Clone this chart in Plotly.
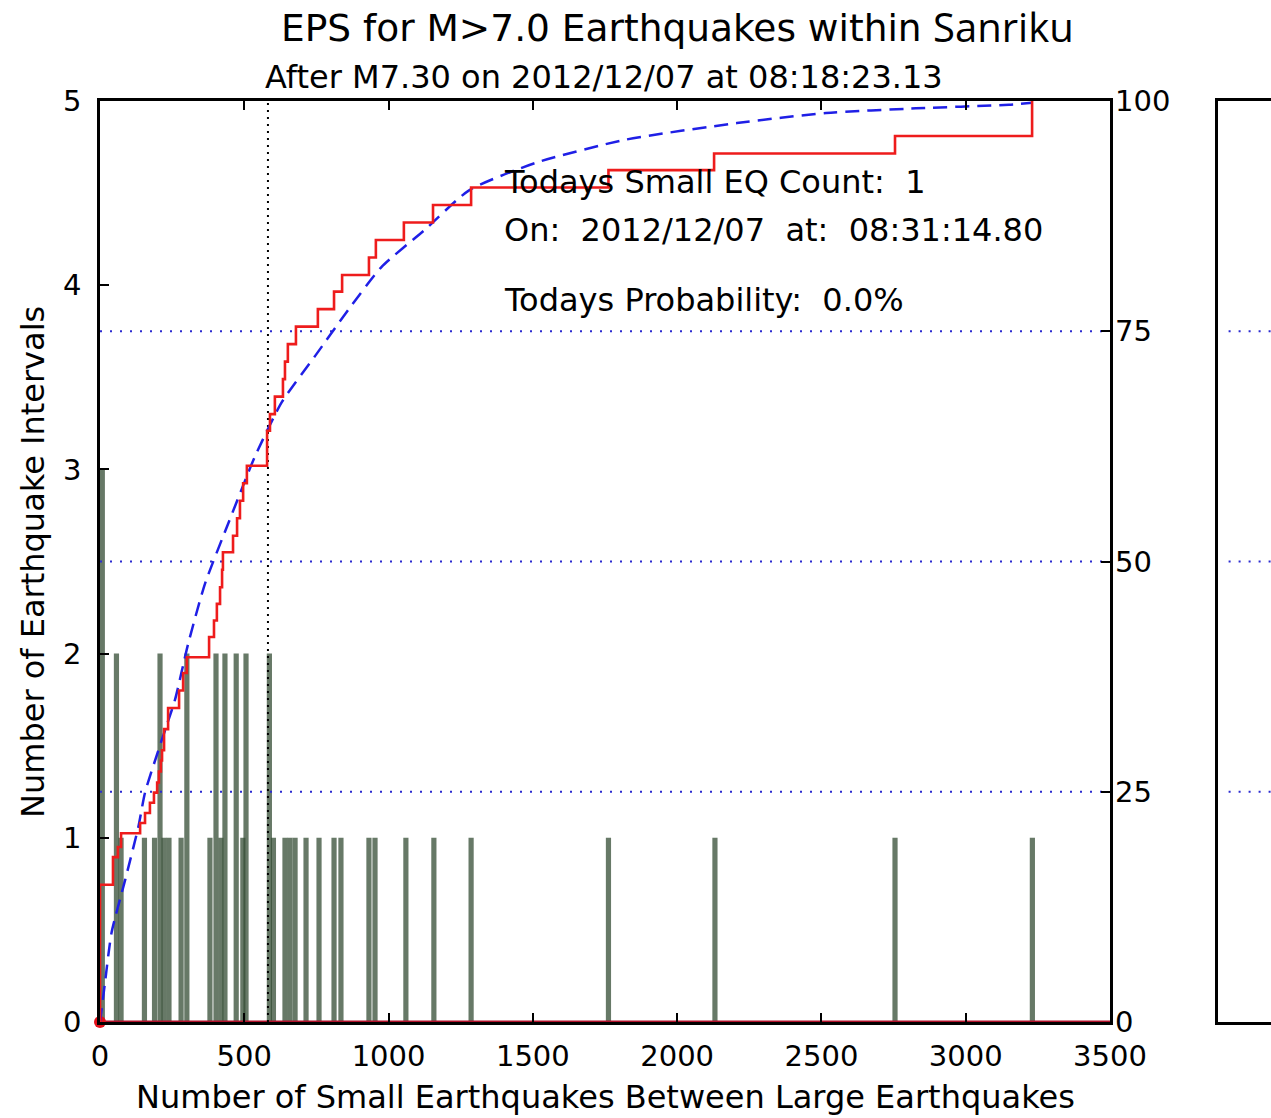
import plotly.graph_objects as go

# ---------------- data ----------------
# histogram of interval sizes (number of small EQs between large EQs)
bin_centers = [8, 57, 73, 154, 189, 208, 222, 239, 281, 301, 381, 402, 419, 433,
               472, 495, 506, 587, 601, 641, 658, 676, 714, 759, 811, 835, 932,
               953, 1060, 1157, 1286, 1762, 2131, 2755, 3231]
bin_counts = [3, 2, 1, 1, 1, 2, 1, 1, 1, 2, 1, 2, 1, 2,
              2, 1, 2, 2, 1, 1, 1, 1, 1, 1, 1, 1, 1,
              1, 1, 1, 1, 1, 1, 1, 1]

# empirical cumulative distribution (percent, right axis) - step curve
cdf_x = [0, 0, 45, 62, 73, 139, 156, 173, 187, 198, 204, 211, 215, 222, 236,
         274, 288, 301, 378, 395, 405, 416, 423, 426, 461, 475, 485, 496, 509,
         579, 589, 606, 634, 641, 651, 679, 755, 811, 839, 932, 956, 1053,
         1154, 1286, 1762, 2128, 2755, 3230]
cdf_pct = [0, 14.9, 17.9, 19.0, 20.5, 21.6, 22.7, 23.8, 24.9, 26.0, 27.2, 28.4,
           29.5, 31.8, 34.1, 36.0, 37.9, 39.6, 41.8, 43.6, 45.4, 47.2, 49.1,
           51.0, 52.8, 54.7, 56.6, 58.5, 60.4, 64.2, 66.0, 67.9, 69.8, 71.7,
           73.6, 75.5, 77.4, 79.3, 81.1, 83.0, 84.9, 86.8, 88.7, 90.6, 92.5,
           94.3, 96.2, 100.0]

# fitted (Weibull) cumulative curve, percent
fit_x = [0, 17, 40, 87, 133, 156, 214, 260, 305, 364, 444, 537, 630, 745, 860,
         976, 1125, 1279, 1511, 1821, 2207, 2516, 2827, 3150, 3230]
fit_pct = [0, 4.2, 9.7, 15.4, 21.2, 24.9, 30.6, 35.0, 41.0, 47.6, 54.1, 61.4,
           67.3, 72.3, 77.3, 82.0, 86.0, 90.3, 93.3, 95.8, 97.6, 98.7, 99.2,
           99.6, 99.8]

current_count = 582          # vertical dotted marker (small EQs since last large EQ)
pct_levels = [25, 50, 75]    # dotted reference levels
x_ticks = [0, 500, 1000, 1500, 2000, 2500, 3000, 3500]
left_ticks = [0, 1, 2, 3, 4, 5]
right_ticks = [0, 25, 50, 75, 100]
x_range = [0, 3500]
left_range = [0, 5]
right_range = [0, 100]

title_main = "EPS for M>7.0 Earthquakes within"
title_region = "Sanriku"
subtitle = "After M7.30 on 2012/12/07 at 08:18:23.13"
info_lines = ["Todays Small EQ Count:  1",
              "On:  2012/12/07  at:  08:31:14.80",
              "Todays Probability:  0.0%"]
info_y = [4.56, 4.30, 3.92]
info_x = 1393
xlabel = "Number of Small Earthquakes Between Large Earthquakes"
ylabel = "Number of Earthquake Intervals"

# ---------------- figure ----------------
FONT = "DejaVu Sans"
W, H = 1271, 1118
ML, MR, MT, MB = 100, 0, 101, 96
PW = W - ML - MR
PH = H - MT - MB


def px_x(p):
    return (p - ML) / PW


def px_y(p):
    return (H - MB - p) / PH


fig = go.Figure()

fig.add_trace(go.Bar(x=bin_centers, y=bin_counts, width=18,
                     marker=dict(color="rgba(52,76,52,0.75)", line=dict(width=0)),
                     xaxis="x", yaxis="y", hoverinfo="skip"))

# bottom red baseline (daily probability) and origin dot
fig.add_trace(go.Scatter(x=x_range, y=[0, 0], mode="lines",
                         line=dict(color="#b0102a", width=3),
                         xaxis="x", yaxis="y", cliponaxis=False))
fig.add_trace(go.Scatter(x=[0], y=[0], mode="markers",
                         marker=dict(color="#e3101a", size=12),
                         xaxis="x", yaxis="y", cliponaxis=False))

# vertical dotted line
fig.add_trace(go.Scatter(x=[current_count, current_count], y=left_range, mode="lines",
                         line=dict(color="black", width=2, dash="2px,5px"),
                         xaxis="x", yaxis="y"))

# dotted blue percent levels
for lv in pct_levels:
    fig.add_trace(go.Scatter(x=x_range, y=[lv, lv], mode="lines",
                             line=dict(color="#2b2bd0", width=2, dash="2px,8px"),
                             xaxis="x", yaxis="y2"))

# fitted curve
fig.add_trace(go.Scatter(x=fit_x, y=fit_pct, mode="lines",
                         line=dict(color="#1f1fe6", width=2.5, dash="14px,8px",
                                   shape="spline", smoothing=0.6),
                         xaxis="x", yaxis="y2"))
# empirical step curve
fig.add_trace(go.Scatter(x=cdf_x, y=cdf_pct, mode="lines",
                         line=dict(color="#ee1c1c", width=2.6, shape="hv"),
                         xaxis="x", yaxis="y2"))

# second (cut-off) panel on the right
for lv in pct_levels:
    fig.add_trace(go.Scatter(x=[0.2, 1], y=[lv, lv], mode="lines",
                             line=dict(color="#2b2bd0", width=2, dash="2px,8px"),
                             xaxis="x2", yaxis="y3"))

tickfont = dict(family=FONT, size=29, color="black")
main_right = px_x(1110)

fig.update_layout(
    width=W, height=H, autosize=False,
    margin=dict(l=ML, r=MR, t=MT, b=MB, autoexpand=False),
    paper_bgcolor="white", plot_bgcolor="white",
    showlegend=False, barmode="overlay",
    font=dict(family=FONT, color="black"),
    xaxis=dict(domain=[0, main_right], range=x_range, tickvals=x_ticks,
               ticks="inside", ticklen=9, tickwidth=1.5, tickcolor="black",
               showline=True, linecolor="black", linewidth=2.5, mirror="ticks",
               showgrid=False, zeroline=False, tickfont=tickfont, automargin=False,
               ticklabelstandoff=6, anchor="y"),
    yaxis=dict(domain=[0, 1], range=left_range, tickvals=left_ticks,
               ticks="inside", ticklen=9, tickwidth=1.5, tickcolor="black",
               showline=True, linecolor="black", linewidth=2.5, mirror=True,
               showgrid=False, zeroline=False, tickfont=tickfont, automargin=False,
               ticklabelstandoff=10, anchor="x"),
    yaxis2=dict(range=right_range, tickvals=right_ticks, overlaying="y", side="right",
                anchor="x", ticks="inside", ticklen=9, tickwidth=1.5, tickcolor="black",
                showline=False, showgrid=False, zeroline=False, tickfont=tickfont,
                automargin=False, ticklabelstandoff=4),
    xaxis2=dict(domain=[px_x(1218), 1], range=[0, 1], anchor="y3",
                showline=True, linecolor="black", linewidth=2.5, mirror=True,
                showticklabels=False, ticks="", showgrid=False, zeroline=False,
                automargin=False),
    yaxis3=dict(domain=[0, 1], range=right_range, anchor="x2",
                showline=True, linecolor="black", linewidth=2.5, mirror=False,
                showticklabels=False, ticks="", showgrid=False, zeroline=False,
                automargin=False),
)

ann = []
for txt, yv in zip(info_lines, info_y):
    ann.append(dict(text=txt, x=info_x, y=yv, xref="x", yref="y",
                    xanchor="left", yanchor="middle", showarrow=False,
                    font=dict(family=FONT, size=32, color="black")))
ann.append(dict(text=title_main, x=px_x(279), y=px_y(28), xref="paper", yref="paper",
                xanchor="left", yanchor="middle", showarrow=False,
                font=dict(family=FONT, size=37.5, color="black")))
ann.append(dict(text=title_region, x=px_x(928), y=px_y(27), xref="paper", yref="paper",
                xanchor="left", yanchor="middle", showarrow=False, bgcolor="white",
                borderpad=4,
                font=dict(family="Open Sans", size=40, color="black")))
ann.append(dict(text=subtitle, x=px_x(263), y=px_y(77), xref="paper", yref="paper",
                xanchor="left", yanchor="middle", showarrow=False,
                font=dict(family=FONT, size=32, color="black")))
ann.append(dict(text=xlabel, x=px_x(605), y=px_y(1097), xref="paper", yref="paper",
                xanchor="center", yanchor="middle", showarrow=False,
                font=dict(family=FONT, size=32, color="black")))
ann.append(dict(text=ylabel, x=px_x(33), y=px_y(562), xref="paper", yref="paper",
                xanchor="center", yanchor="middle", showarrow=False, textangle=-90,
                font=dict(family=FONT, size=32, color="black")))
fig.update_layout(annotations=ann)

fig.write_html("out.html", config={"responsive": False})
